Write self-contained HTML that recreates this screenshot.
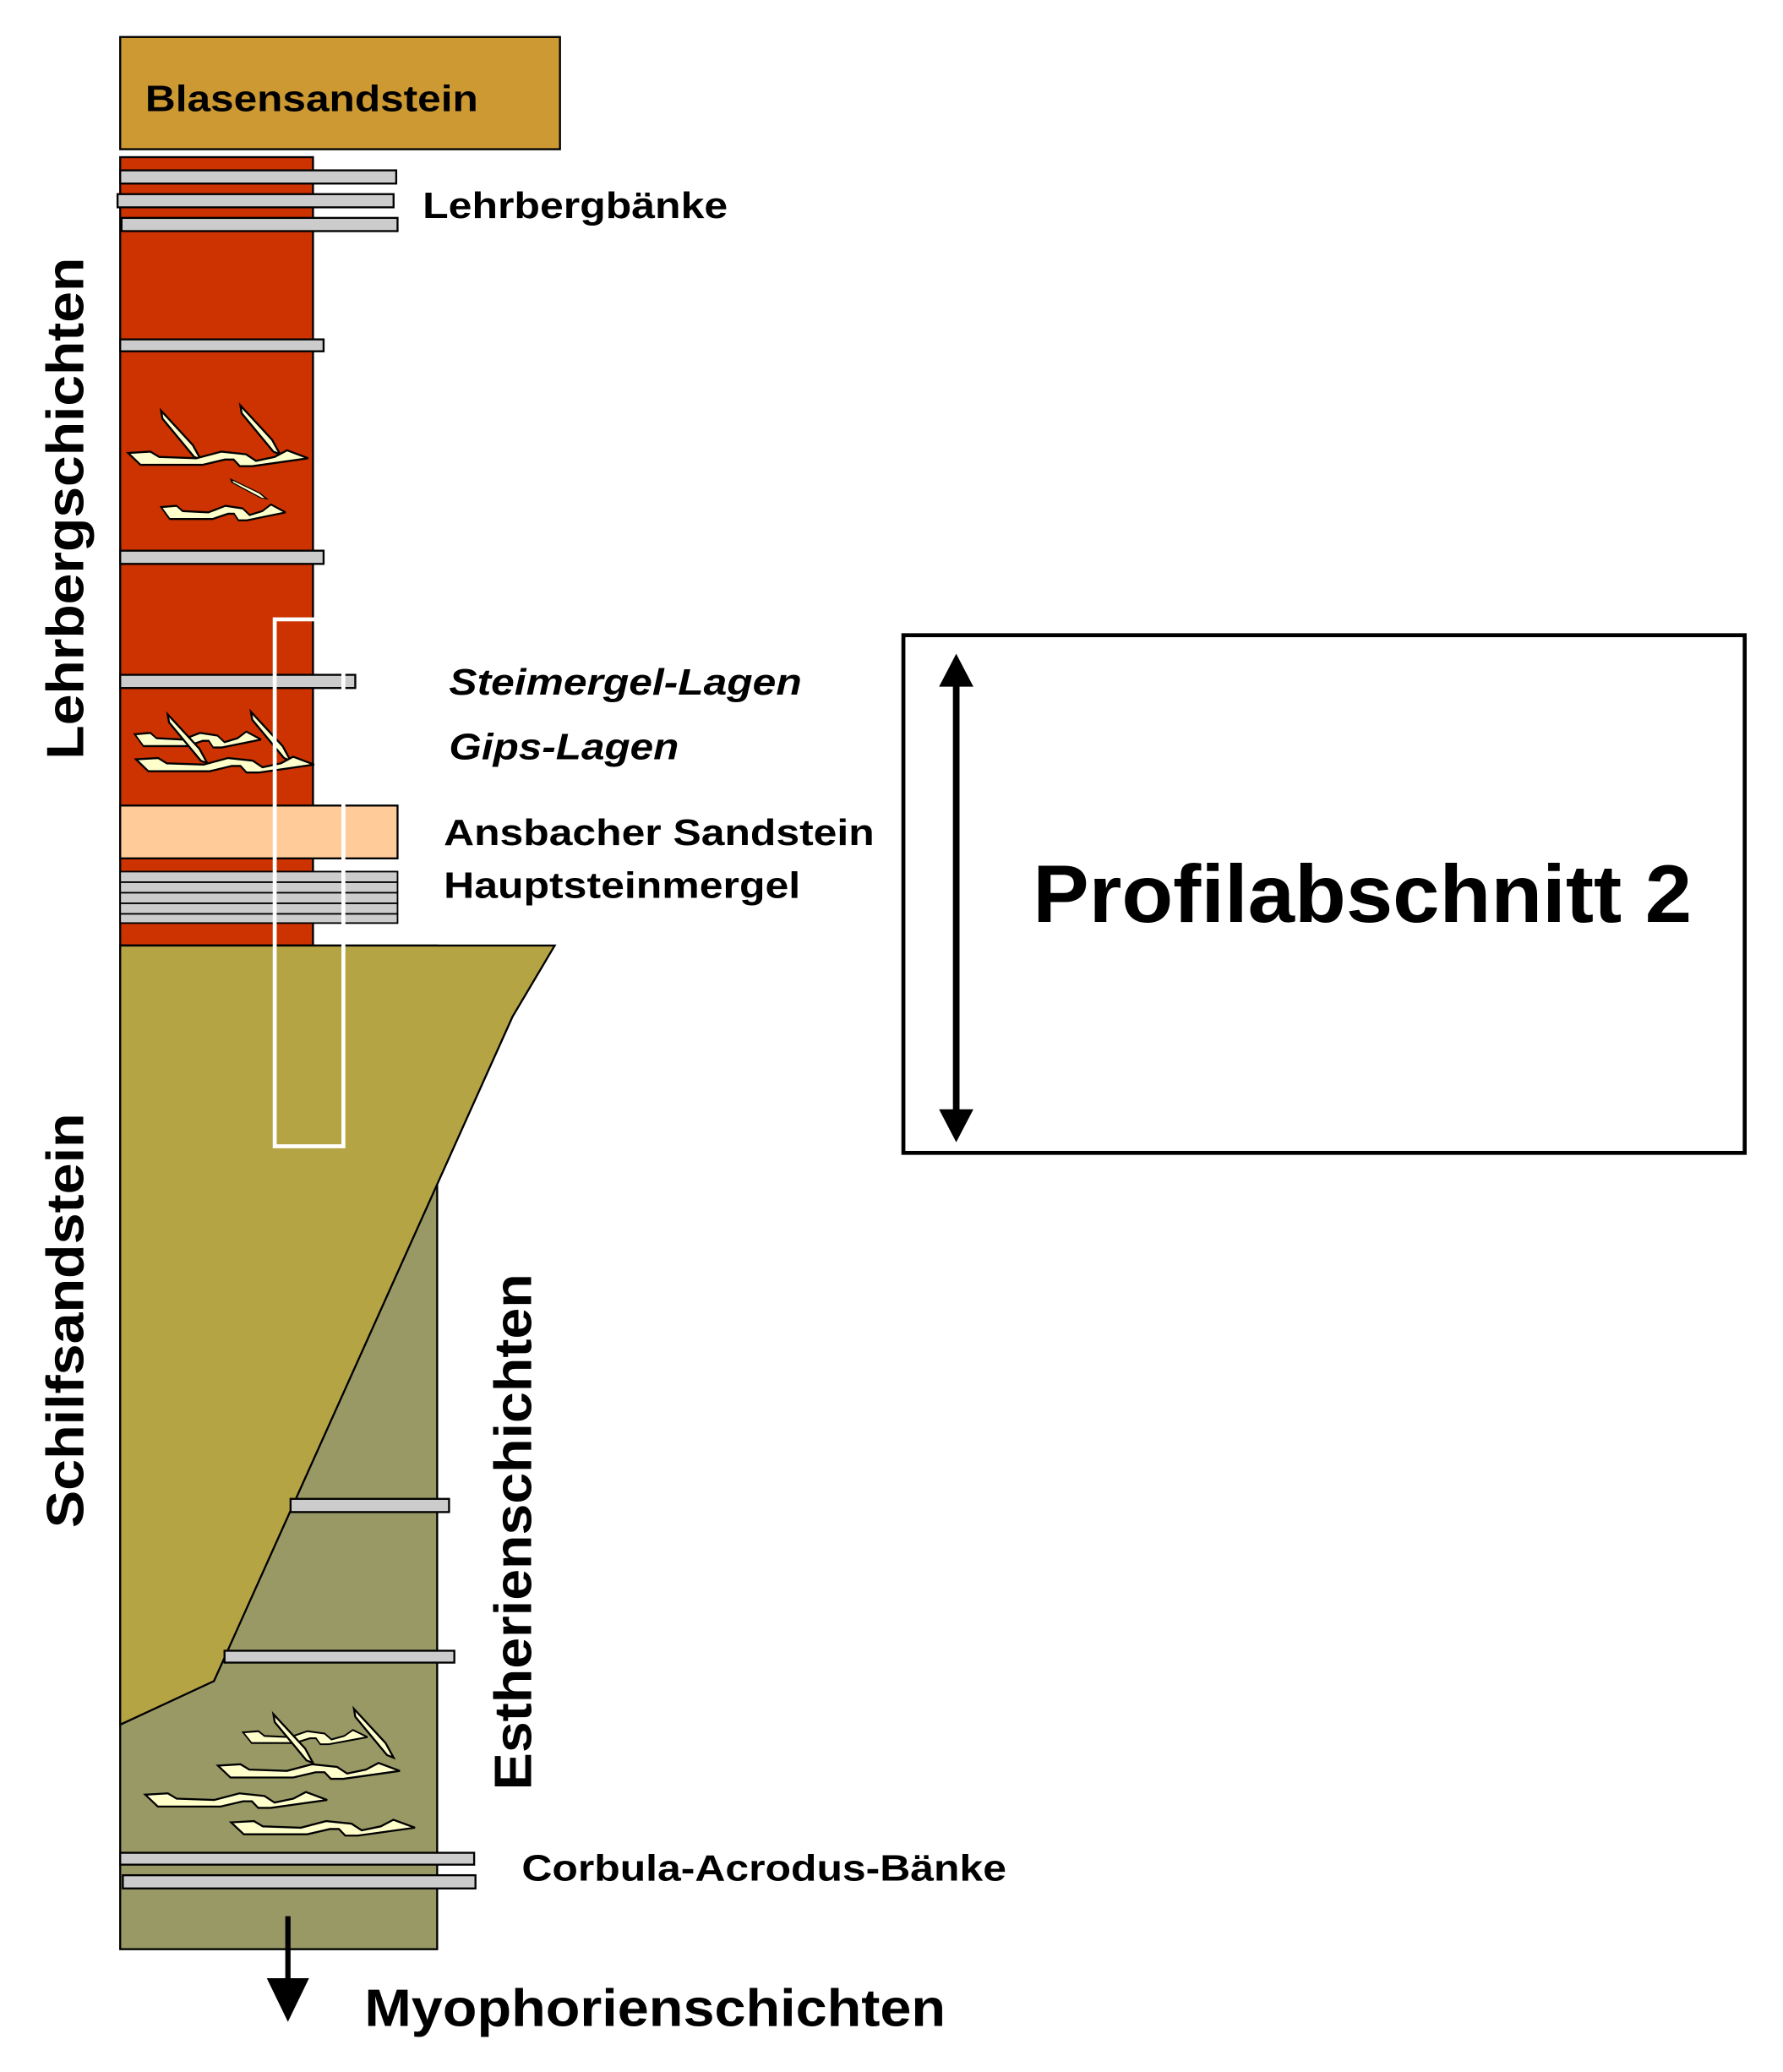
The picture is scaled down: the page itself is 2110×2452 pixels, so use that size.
<!DOCTYPE html>
<html><head><style>html,body{margin:0;padding:0;background:#fff}svg{display:block}</style></head>
<body>
<svg width="2110" height="2452" viewBox="0 0 1350 1569" preserveAspectRatio="none" xmlns="http://www.w3.org/2000/svg" font-family="Liberation Sans, Arial, sans-serif" font-weight="bold">
<defs>
<path id="lens" d="M0,2 L18,1 L25,5 L55,6 L75,1 L95,3 L103,8 L118,5 L128,0 L145,6 L100,12 L90,12 L85,7 L78,7 L60,11 L10,11 Z" fill="#ffffcc" stroke="#000" stroke-width="1.5"/>
<path id="sliver" d="M0,0 L24,26 L30,37 L25,35 L1,6 Z" fill="#ffffcc" stroke="#000" stroke-width="1.5"/>
</defs>
<rect x="91" y="28" width="333" height="85" fill="#cc9933" stroke="#000" stroke-width="1.5"/>
<text x="110" y="84" font-size="28" textLength="252" lengthAdjust="spacingAndGlyphs">Blasensandstein</text>
<rect x="91" y="119" width="146" height="597" fill="#cc3300" stroke="#000" stroke-width="1.5"/>
<g fill="#cccccc" stroke="#000" stroke-width="1.5">
<rect x="91" y="129" width="209" height="10"/>
<rect x="89" y="147" width="209" height="10"/>
<rect x="92" y="165" width="209" height="10"/>
<rect x="91" y="257" width="154" height="9"/>
<rect x="91" y="417" width="154" height="10"/>
<rect x="91" y="511" width="178" height="10"/>
</g>
<use href="#sliver" x="122" y="311"/>
<use href="#sliver" x="182" y="307"/>
<use href="#lens" transform="translate(97,341) scale(0.94,1)"/>
<use href="#sliver" transform="translate(175,363) scale(0.9,0.4)"/>
<use href="#lens" transform="translate(122,382) scale(0.65,1)"/>
<use href="#lens" transform="translate(102,554) scale(0.66,1)"/>
<use href="#sliver" x="127" y="541"/>
<use href="#sliver" x="190" y="539"/>
<use href="#lens" transform="translate(103,573) scale(0.93,1)"/>
<rect x="91" y="610" width="210" height="40" fill="#ffcc99" stroke="#000" stroke-width="1.5"/>
<g fill="#cccccc" stroke="#000" stroke-width="1.2">
<rect x="91" y="660" width="210" height="8"/>
<rect x="91" y="668" width="210" height="8"/>
<rect x="91" y="676" width="210" height="8"/>
<rect x="91" y="684" width="210" height="8"/>
<rect x="91" y="692" width="210" height="7"/>
</g>
<rect x="91" y="716" width="240" height="760" fill="#999966" stroke="#000" stroke-width="1.5"/>
<polygon points="91,716 420,716 388,770 162,1273 91,1306" fill="#b5a444" stroke="#000" stroke-width="1.5"/>
<g fill="#cccccc" stroke="#000" stroke-width="1.5">
<rect x="220" y="1135" width="120" height="10"/>
<rect x="170" y="1250" width="174" height="9"/>
<rect x="91" y="1403" width="268" height="9"/>
<rect x="93" y="1420" width="267" height="10"/>
</g>
<use href="#lens" transform="translate(184,1310) scale(0.65,0.9)"/>
<use href="#sliver" x="207" y="1298"/>
<use href="#sliver" x="268" y="1294"/>
<use href="#lens" transform="translate(165,1335) scale(0.95,1)"/>
<use href="#lens" transform="translate(110,1357) scale(0.95,1)"/>
<use href="#lens" transform="translate(175,1378) scale(0.96,1)"/>
<rect x="208" y="469" width="52" height="399" fill="none" stroke="#fff" stroke-width="3"/>
<line x1="218" y1="1451" x2="218" y2="1500" stroke="#000" stroke-width="4"/>
<polygon points="202,1498 234,1498 218,1531" fill="#000"/>
<g font-size="28">
<text x="320" y="165" textLength="231" lengthAdjust="spacingAndGlyphs">Lehrbergbänke</text>
<text x="340" y="526" font-style="italic" textLength="267" lengthAdjust="spacingAndGlyphs">Steimergel-Lagen</text>
<text x="340" y="575" font-style="italic" textLength="174" lengthAdjust="spacingAndGlyphs">Gips-Lagen</text>
<text x="336" y="640" textLength="326" lengthAdjust="spacingAndGlyphs">Ansbacher Sandstein</text>
<text x="336" y="680" textLength="270" lengthAdjust="spacingAndGlyphs">Hauptsteinmergel</text>
<text x="395" y="1424" textLength="367" lengthAdjust="spacingAndGlyphs">Corbula-Acrodus-Bänke</text>
</g>
<text x="276" y="1534" font-size="40" textLength="440" lengthAdjust="spacingAndGlyphs">Myophorienschichten</text>
<text transform="translate(63,385) rotate(-90)" text-anchor="middle" font-size="40" textLength="380" lengthAdjust="spacingAndGlyphs">Lehrbergschichten</text>
<text transform="translate(63,1000) rotate(-90)" text-anchor="middle" font-size="40" textLength="314" lengthAdjust="spacingAndGlyphs">Schilfsandstein</text>
<text transform="translate(402,1160) rotate(-90)" text-anchor="middle" font-size="40" textLength="391" lengthAdjust="spacingAndGlyphs">Estherienschichten</text>
<rect x="684" y="481" width="637" height="392" fill="none" stroke="#000" stroke-width="3"/>
<line x1="724" y1="515" x2="724" y2="845" stroke="#000" stroke-width="5"/>
<polygon points="711,520 737,520 724,495" fill="#000"/>
<polygon points="711,840 737,840 724,865" fill="#000"/>
<text x="782" y="698" font-size="62" textLength="499" lengthAdjust="spacingAndGlyphs">Profilabschnitt 2</text>
</svg>
</body></html>
